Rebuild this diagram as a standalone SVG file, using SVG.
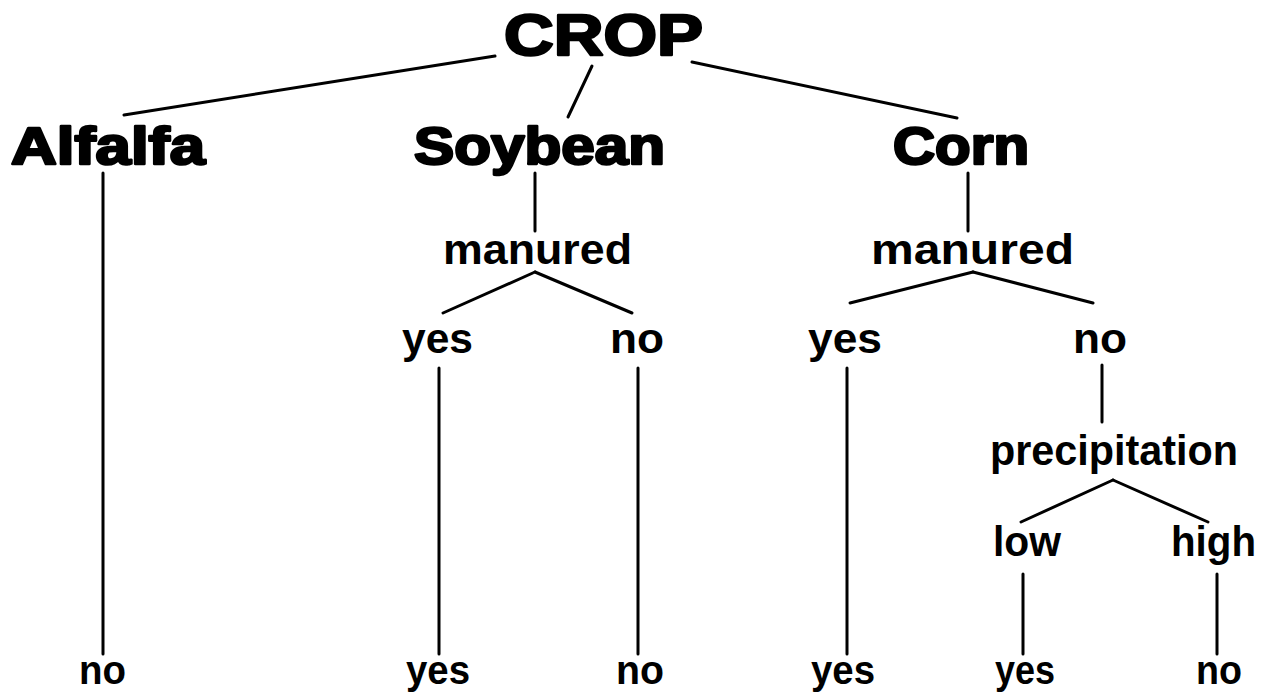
<svg xmlns="http://www.w3.org/2000/svg" width="1261" height="694" viewBox="0 0 1261 694">
<style>
.big{font-family:"Liberation Sans",Arial,sans-serif;font-weight:bold;fill:#000;stroke:#000;stroke-width:2.5;stroke-linejoin:round}
.lbl{font-family:"Liberation Sans",Arial,sans-serif;font-weight:bold;font-size:42px;fill:#000}
.leaf{font-family:"Liberation Sans",Arial,sans-serif;font-weight:bold;font-size:41px;fill:#000}
#connectors line{stroke:#000;stroke-width:3;stroke-linecap:round}
</style>
<rect width="1261" height="694" fill="#fff"/>
<g id="connectors">
<line x1="495" y1="56" x2="124" y2="115"/>
<line x1="592" y1="66" x2="568" y2="117"/>
<line x1="692" y1="62" x2="957" y2="118"/>
<line x1="103" y1="173" x2="103" y2="654"/>
<line x1="535" y1="173" x2="535" y2="231"/>
<line x1="535" y1="272" x2="443" y2="313"/>
<line x1="535" y1="272" x2="632" y2="313"/>
<line x1="439" y1="368" x2="439" y2="654"/>
<line x1="638" y1="368" x2="638" y2="654"/>
<line x1="968" y1="173" x2="968" y2="231"/>
<line x1="973" y1="272" x2="850" y2="303"/>
<line x1="973" y1="272" x2="1093" y2="303"/>
<line x1="847" y1="368" x2="847" y2="654"/>
<line x1="1102" y1="365" x2="1102" y2="422"/>
<line x1="1113" y1="480" x2="1021" y2="522"/>
<line x1="1113" y1="480" x2="1208" y2="522"/>
<line x1="1023" y1="574" x2="1023" y2="654"/>
<line x1="1217" y1="574" x2="1217" y2="654"/>
</g>
<g id="crop"><text class="big" x="504" y="55" font-size="58" textLength="199" lengthAdjust="spacingAndGlyphs">CROP</text></g>
<g id="alfalfa"><text class="big" x="11" y="164" font-size="51" textLength="194" lengthAdjust="spacingAndGlyphs">Alfalfa</text></g>
<g id="soybean"><text class="big" x="414" y="164" font-size="51" textLength="251" lengthAdjust="spacingAndGlyphs">Soybean</text></g>
<g id="corn"><text class="big" x="893" y="164" font-size="51" textLength="136" lengthAdjust="spacingAndGlyphs">Corn</text></g>
<g id="soy-manured"><text class="lbl" x="443" y="264" textLength="189" lengthAdjust="spacingAndGlyphs">manured</text></g>
<g id="corn-manured"><text class="lbl" x="871" y="264" textLength="203" lengthAdjust="spacingAndGlyphs">manured</text></g>
<g id="soy-yes"><text class="lbl" x="402" y="353" textLength="71" lengthAdjust="spacingAndGlyphs">yes</text></g>
<g id="soy-no"><text class="lbl" x="610" y="353" textLength="54" lengthAdjust="spacingAndGlyphs">no</text></g>
<g id="corn-yes"><text class="lbl" x="808" y="353" textLength="74" lengthAdjust="spacingAndGlyphs">yes</text></g>
<g id="corn-no"><text class="lbl" x="1073" y="353" textLength="54" lengthAdjust="spacingAndGlyphs">no</text></g>
<g id="precipitation"><text class="lbl" x="990" y="465" textLength="248" lengthAdjust="spacingAndGlyphs">precipitation</text></g>
<g id="low"><text class="lbl" x="993" y="556" textLength="68" lengthAdjust="spacingAndGlyphs">low</text></g>
<g id="high"><text class="lbl" x="1171" y="556" textLength="85" lengthAdjust="spacingAndGlyphs">high</text></g>
<g id="leaf-alfalfa-no"><text class="leaf" x="79" y="684" textLength="47" lengthAdjust="spacingAndGlyphs">no</text></g>
<g id="leaf-soy-yes"><text class="leaf" x="406" y="684" textLength="64" lengthAdjust="spacingAndGlyphs">yes</text></g>
<g id="leaf-soy-no"><text class="leaf" x="616" y="684" textLength="48" lengthAdjust="spacingAndGlyphs">no</text></g>
<g id="leaf-corn-yes"><text class="leaf" x="811" y="684" textLength="64" lengthAdjust="spacingAndGlyphs">yes</text></g>
<g id="leaf-low-yes"><text class="leaf" x="995" y="684" textLength="60" lengthAdjust="spacingAndGlyphs">yes</text></g>
<g id="leaf-high-no"><text class="leaf" x="1196" y="684" textLength="46" lengthAdjust="spacingAndGlyphs">no</text></g>
</svg>
